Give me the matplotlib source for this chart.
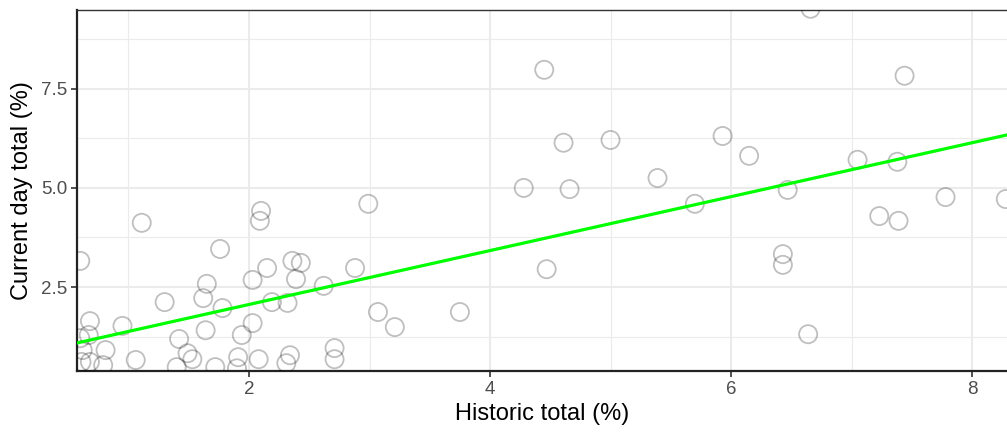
import numpy as np
import matplotlib
matplotlib.use("Agg")
import matplotlib.pyplot as plt

plt.rcParams['font.family'] = ['Liberation Sans', 'DejaVu Sans']

# historic total (%) vs current day total (%)
historic = [6.66, 4.45, 7.44, 5.93, 4.61, 5.00, 6.15, 7.05, 7.38, 4.28,
            4.66, 5.39, 5.70, 6.47, 7.23, 7.39, 7.78, 8.28, 6.43, 6.43,
            4.47, 6.64, 2.99, 3.75, 3.07, 3.21, 2.10, 2.09, 1.11, 0.60,
            1.76, 2.03, 2.15, 2.36, 2.43, 2.39, 2.62, 2.88, 1.65, 1.62,
            1.30, 1.78, 2.19, 2.32, 0.68, 0.95, 1.64, 2.03, 1.94, 1.42,
            0.67, 0.60, 0.81, 0.62, 1.49, 1.53, 1.06, 0.61, 0.68, 0.79,
            1.40, 1.72, 1.91, 1.90, 2.08, 2.34, 2.31, 2.71, 2.71]
current = [9.52, 7.98, 7.83, 6.31, 6.14, 6.21, 5.81, 5.71, 5.66, 5.00,
           4.97, 5.25, 4.60, 4.95, 4.29, 4.17, 4.77, 4.72, 3.33, 3.06,
           2.95, 1.31, 4.60, 1.87, 1.87, 1.49, 4.42, 4.17, 4.12, 3.16,
           3.46, 2.68, 2.98, 3.16, 3.11, 2.70, 2.53, 2.98, 2.58, 2.22,
           2.12, 1.97, 2.12, 2.10, 1.64, 1.52, 1.41, 1.59, 1.29, 1.19,
           1.29, 1.21, 0.91, 0.91, 0.83, 0.68, 0.66, 0.61, 0.61, 0.53,
           0.48, 0.48, 0.73, 0.45, 0.68, 0.78, 0.58, 0.96, 0.68]

# linear fit shown on the chart
fit_intercept = 0.70
fit_slope = 0.68

x_lim = (0.573, 8.29)
y_lim = (0.38, 9.49)

fig = plt.figure(figsize=(10.07, 4.32), dpi=100)
ax = fig.add_axes([0.0765, 0.141, 0.9235, 0.836])

ax.scatter(historic, current, s=170, facecolors='none', edgecolors='black',
           linewidths=1.3, alpha=0.25, zorder=3)

fx = np.array(x_lim)
ax.plot(fx, fit_intercept + fit_slope * fx, color='#00ff00', lw=2.3, zorder=4)

ax.set_xlim(x_lim)
ax.set_ylim(y_lim)
ax.set_xticks([2, 4, 6, 8])
ax.set_xticks([1, 3, 5, 7], minor=True)
ax.set_yticks([2.5, 5.0, 7.5])
ax.set_yticks([1.25, 3.75, 6.25, 8.75], minor=True)
ax.set_yticklabels(['2.5', '5.0', '7.5'])

ax.grid(which='major', color='#ebebeb', lw=1.5, zorder=0)
ax.grid(which='minor', color='#ebebeb', lw=0.8, zorder=0)
ax.set_axisbelow(True)

ax.tick_params(which='major', length=4, width=1.2, color='#333333',
               labelcolor='#4d4d4d', labelsize=13.5, pad=3)
ax.tick_params(which='minor', length=0)

for side in ['left', 'bottom']:
    ax.spines[side].set_linewidth(1.6)
    ax.spines[side].set_color('#222222')
ax.spines['top'].set_linewidth(1.0)
ax.spines['top'].set_color('#333333')
ax.spines['right'].set_visible(False)

ax.set_xlabel('Historic total (%)', fontsize=17, color='black', labelpad=4)
ax.set_ylabel('Current day total (%)', fontsize=17, color='black', labelpad=6)

fig.savefig('out.png', dpi=100)
